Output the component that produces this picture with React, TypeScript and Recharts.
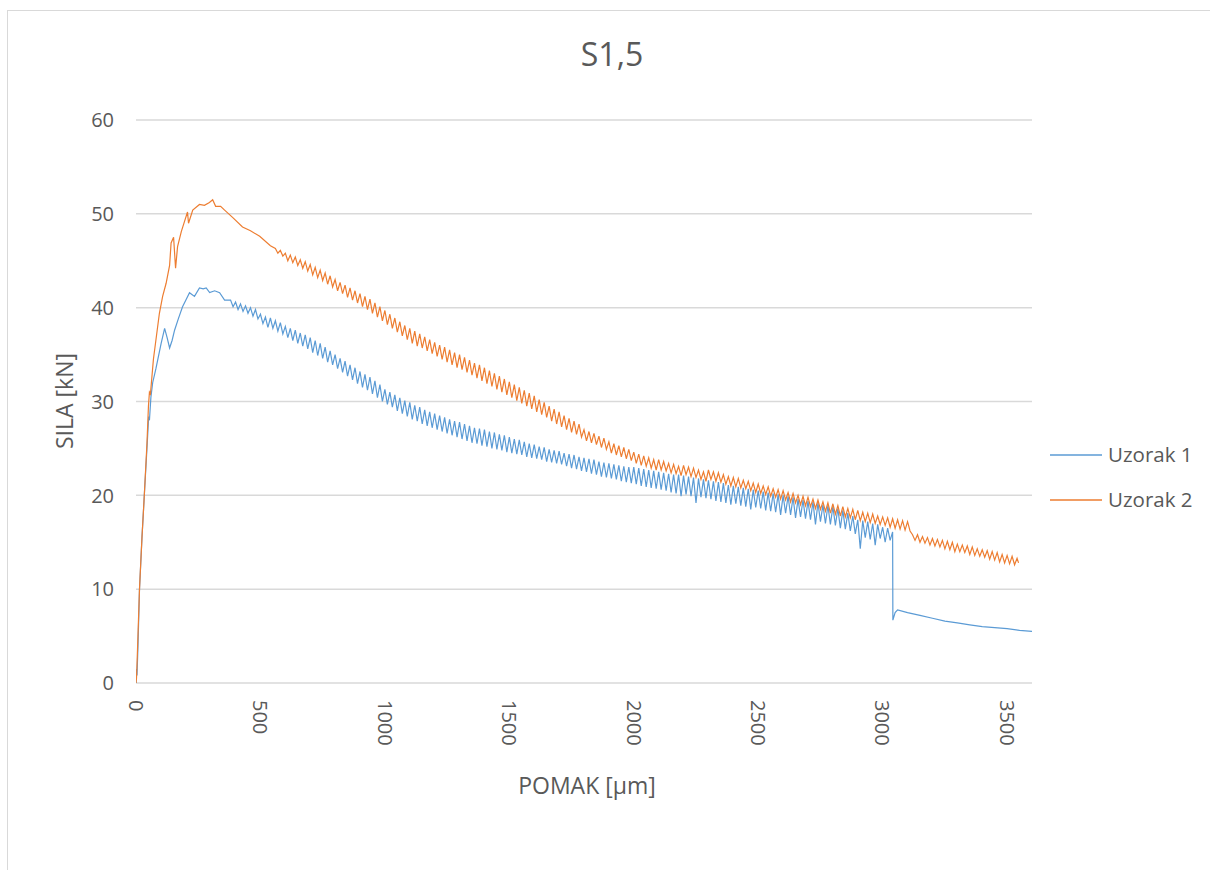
import React from 'react';
import { LineChart, Line, XAxis, YAxis, CartesianGrid } from 'recharts';

const TITLE = 'S1,5';
const X_TITLE = 'POMAK [µm]';
const Y_TITLE = 'SILA [kN]';
const SERIES_NAMES = ['Uzorak 1', 'Uzorak 2'];
const X_TICKS = [0, 500, 1000, 1500, 2000, 2500, 3000, 3500];
const Y_TICKS = [0, 10, 20, 30, 40, 50, 60];

// Uzorak 1
const blueX = [
  0, 2, 4, 8, 14, 24, 34, 44, 51, 54, 60, 67, 80, 101, 115, 125, 135, 145, 155, 170,
  187, 200, 215, 235, 255, 270, 282, 296, 316, 336, 356,
  380, 390,
  400, 410, 420, 430, 440, 450, 460, 470, 480, 490,
  500, 510, 520, 530, 540, 550, 560, 570, 580, 590,
  600, 610, 620, 630, 640, 650, 660, 670, 680, 690,
  700, 710, 720, 730, 740, 750, 760, 770, 780, 790,
  800, 810, 820, 830, 840, 850, 860, 870, 880, 890,
  900, 910, 920, 930, 940, 950, 960, 970, 980, 990,
  1000, 1010, 1020, 1030, 1040, 1050, 1060, 1070, 1080, 1090,
  1100, 1110, 1120, 1130, 1140, 1150, 1160, 1170, 1180, 1190,
  1200, 1210, 1220, 1230, 1240, 1250, 1260, 1270, 1280, 1290,
  1300, 1310, 1320, 1330, 1340, 1350, 1360, 1370, 1380, 1390,
  1400, 1410, 1420, 1430, 1440, 1450, 1460, 1470, 1480, 1490,
  1500, 1510, 1520, 1530, 1540, 1550, 1560, 1570, 1580, 1590,
  1600, 1610, 1620, 1630, 1640, 1650, 1660, 1670, 1680, 1690,
  1700, 1710, 1720, 1730, 1740, 1750, 1760, 1770, 1780, 1790,
  1800, 1810, 1820, 1830, 1840, 1850, 1860, 1870, 1880, 1890,
  1900, 1910, 1920, 1930, 1940, 1950, 1960, 1970, 1980, 1990,
  2000, 2010, 2020, 2030, 2040, 2050, 2060, 2070, 2080, 2090,
  2100, 2110, 2120, 2130, 2140, 2150, 2160, 2170, 2180, 2190,
  2200, 2210, 2220, 2230, 2240, 2250, 2260, 2270, 2280, 2290,
  2300, 2310, 2320, 2330, 2340, 2350, 2360, 2370, 2380, 2390,
  2400, 2410, 2420, 2430, 2440, 2450, 2460, 2470, 2480, 2490,
  2500, 2510, 2520, 2530, 2540, 2550, 2560, 2570, 2580, 2590,
  2600, 2610, 2620, 2630, 2640, 2650, 2660, 2670, 2680, 2690,
  2700, 2710, 2720, 2730, 2740, 2750, 2760, 2770, 2780, 2790,
  2800, 2810, 2820, 2830, 2840, 2850, 2860, 2870, 2880, 2890,
  2900, 2910, 2920, 2930, 2940, 2950, 2960, 2970, 2980, 2990,
  3000, 3010, 3020, 3030, 3040,
  3041, 3050, 3060, 3100, 3150, 3200, 3250, 3300, 3350, 3400, 3450, 3500, 3550, 3600,
];
const blueY = [
  0, 1.5, 0.8, 4, 9.9, 15.5, 20.3, 25, 28.4, 28, 30.5, 32, 33.5, 36.2, 37.8, 36.8, 35.7, 36.5, 37.6, 38.8,
  40.1, 40.8, 41.6, 41.2, 42.1, 42.0, 42.1, 41.6, 41.8, 41.6, 40.8,
  40.8, 40.1,
  40.6, 39.8, 40.4, 39.6, 40.2, 39.4, 40.0, 39.1, 39.8, 38.8,
  39.3, 38.3, 39.0, 37.9, 38.9, 37.8, 38.6, 37.5, 38.4, 37.2,
  38.0, 36.8, 37.8, 36.5, 37.6, 36.2, 37.3, 35.9, 37.1, 35.6,
  36.8, 35.2, 36.5, 34.9, 36.2, 34.6, 35.8, 34.2, 35.4, 33.9,
  35.0, 33.5, 34.6, 33.1, 34.3, 32.7, 33.9, 32.3, 33.6, 31.9,
  33.2, 31.5, 32.9, 31.2, 32.6, 30.8, 32.2, 30.4, 31.8, 30.0,
  31.3, 29.7, 31.0, 29.4, 30.7, 29.0, 30.4, 28.7, 30.1, 28.4,
  29.9, 28.1, 29.6, 27.9, 29.4, 27.6, 29.1, 27.4, 28.9, 27.2,
  28.7, 27.0, 28.5, 26.8, 28.3, 26.6, 28.1, 26.4, 27.9, 26.2,
  27.8, 26.0, 27.6, 25.8, 27.4, 25.6, 27.2, 25.5, 27.1, 25.3,
  27.0, 25.2, 26.8, 25.0, 26.7, 24.9, 26.5, 24.8, 26.4, 24.6,
  26.2, 24.5, 26.0, 24.4, 25.9, 24.3, 25.7, 24.1, 25.5, 24.0,
  25.4, 23.9, 25.2, 23.8, 25.1, 23.6, 24.9, 23.5, 24.8, 23.4,
  24.7, 23.3, 24.5, 23.1, 24.4, 22.9, 24.3, 22.8, 24.1, 22.6,
  24.0, 22.5, 23.9, 22.3, 23.8, 22.2, 23.6, 22.0, 23.5, 21.9,
  23.4, 21.8, 23.3, 21.7, 23.2, 21.5, 23.1, 21.4, 23.0, 21.3,
  23.0, 21.2, 22.9, 21.0, 22.8, 20.9, 22.7, 20.8, 22.6, 20.7,
  22.5, 20.6, 22.4, 20.5, 22.3, 20.3, 22.2, 20.2, 22.2, 19.9,
  22.1, 20.1, 22.0, 19.9, 21.9, 19.2, 21.8, 19.8, 21.7, 19.7,
  21.6, 19.6, 21.5, 19.4, 21.4, 19.3, 21.3, 19.2, 21.1, 19.0,
  21.0, 19.1, 20.9, 18.9, 20.8, 18.8, 20.7, 18.5, 20.6, 18.7,
  20.5, 18.6, 20.4, 18.4, 20.3, 18.3, 20.2, 18.2, 20.1, 17.9,
  20.0, 18.1, 19.9, 17.9, 19.8, 17.6, 19.6, 17.7, 19.5, 17.5,
  19.4, 17.4, 19.3, 16.9, 19.2, 17.2, 19.0, 17.0, 18.9, 16.9,
  18.8, 16.8, 18.6, 16.5, 18.4, 16.4, 18.1, 16.2, 17.8, 15.9,
  17.4, 14.3, 17.3, 15.5, 17.2, 15.3, 17.0, 14.7, 16.9, 15.4,
  16.6, 15.0, 16.5, 15.2, 16.1,
  6.7, 7.5, 7.8, 7.5, 7.2, 6.9, 6.6, 6.4, 6.2, 6.0, 5.9, 5.8, 5.6, 5.5,
];

// Uzorak 2
const orangeX = [
  0, 2, 6, 14, 24, 34, 44, 50, 54, 58, 70, 94, 107, 121, 135, 141, 151, 159, 167, 182,
  195, 207, 211, 228, 255, 275, 295, 308, 320, 340, 356, 389, 428, 460, 497, 540,
  560, 570, 580, 590,
  600, 610, 620, 630, 640, 650, 660, 670, 680, 690,
  700, 710, 720, 730, 740, 750, 760, 770, 780, 790,
  800, 810, 820, 830, 840, 850, 860, 870, 880, 890,
  900, 910, 920, 930, 940, 950, 960, 970, 980, 990,
  1000, 1010, 1020, 1030, 1040, 1050, 1060, 1070, 1080, 1090,
  1100, 1110, 1120, 1130, 1140, 1150, 1160, 1170, 1180, 1190,
  1200, 1210, 1220, 1230, 1240, 1250, 1260, 1270, 1280, 1290,
  1300, 1310, 1320, 1330, 1340, 1350, 1360, 1370, 1380, 1390,
  1400, 1410, 1420, 1430, 1440, 1450, 1460, 1470, 1480, 1490,
  1500, 1510, 1520, 1530, 1540, 1550, 1560, 1570, 1580, 1590,
  1600, 1610, 1620, 1630, 1640, 1650, 1660, 1670, 1680, 1690,
  1700, 1710, 1720, 1730, 1740, 1750, 1760, 1770, 1780, 1790,
  1800, 1810, 1820, 1830, 1840, 1850, 1860, 1870, 1880, 1890,
  1900, 1910, 1920, 1930, 1940, 1950, 1960, 1970, 1980, 1990,
  2000, 2010, 2020, 2030, 2040, 2050, 2060, 2070, 2080, 2090,
  2100, 2110, 2120, 2130, 2140, 2150, 2160, 2170, 2180, 2190,
  2200, 2210, 2220, 2230, 2240, 2250, 2260, 2270, 2280, 2290,
  2300, 2310, 2320, 2330, 2340, 2350, 2360, 2370, 2380, 2390,
  2400, 2410, 2420, 2430, 2440, 2450, 2460, 2470, 2480, 2490,
  2500, 2510, 2520, 2530, 2540, 2550, 2560, 2570, 2580, 2590,
  2600, 2610, 2620, 2630, 2640, 2650, 2660, 2670, 2680, 2690,
  2700, 2710, 2720, 2730, 2740, 2750, 2760, 2770, 2780, 2790,
  2800, 2810, 2820, 2830, 2840, 2850, 2860, 2870, 2880, 2890,
  2900, 2910, 2920, 2930, 2940, 2950, 2960, 2970, 2980, 2990,
  3000, 3010, 3020, 3030, 3040, 3050, 3060, 3070, 3080, 3090,
  3100, 3110, 3120, 3130, 3140, 3150, 3160, 3170, 3180, 3190,
  3200, 3210, 3220, 3230, 3240, 3250, 3260, 3270, 3280, 3290,
  3300, 3310, 3320, 3330, 3340, 3350, 3360, 3370, 3380, 3390,
  3400, 3410, 3420, 3430, 3440, 3450, 3460, 3470, 3480, 3490,
  3500, 3510, 3520, 3530, 3540, 3546,
];
const orangeY = [
  0, 0.5, 3.5, 10, 15.5, 20.3, 25.5, 29.5, 31, 30.8, 34.5, 39.4, 41.2, 42.6, 44.5, 46.9, 47.5, 44.2, 46.5, 48.1,
  49.2, 50.2, 49.0, 50.4, 51.0, 50.9, 51.2, 51.5, 50.8, 50.8, 50.4, 49.6, 48.6, 48.2, 47.6, 46.6,
  46.3, 45.8, 46.1, 45.5,
  45.8, 45.0, 45.6, 44.8, 45.4, 44.5, 45.1, 44.2, 44.9, 43.9,
  44.6, 43.5, 44.3, 43.2, 44.0, 42.9, 43.7, 42.5, 43.4, 42.2,
  43.0, 41.8, 42.7, 41.5, 42.4, 41.1, 42.1, 40.8, 41.8, 40.5,
  41.5, 40.1, 41.2, 39.8, 40.9, 39.4, 40.5, 39.0, 40.1, 38.6,
  39.7, 38.2, 39.3, 37.8, 38.9, 37.4, 38.5, 37.0, 38.1, 36.6,
  37.8, 36.2, 37.5, 35.9, 37.2, 35.7, 36.9, 35.4, 36.6, 35.1,
  36.3, 34.8, 36.0, 34.5, 35.8, 34.2, 35.5, 33.9, 35.2, 33.6,
  35.0, 33.4, 34.7, 33.1, 34.4, 32.8, 34.1, 32.5, 33.9, 32.2,
  33.6, 31.9, 33.3, 31.6, 33.0, 31.3, 32.7, 31.0, 32.4, 30.7,
  32.1, 30.4, 31.8, 30.1, 31.5, 29.8, 31.2, 29.5, 30.9, 29.2,
  30.6, 28.9, 30.2, 28.6, 29.9, 28.3, 29.5, 27.9, 29.2, 27.6,
  28.9, 27.3, 28.5, 27.0, 28.2, 26.7, 27.9, 26.5, 27.6, 26.2,
  27.0, 25.8, 26.8, 25.6, 26.6, 25.4, 26.3, 25.1, 26.1, 24.9,
  25.7, 24.5, 25.5, 24.3, 25.3, 24.1, 25.1, 23.9, 24.9, 23.7,
  24.6, 23.4, 24.4, 23.2, 24.2, 23.1, 24.0, 22.9, 23.8, 22.7,
  23.8, 22.7, 23.6, 22.6, 23.4, 22.4, 23.3, 22.3, 23.1, 22.1,
  23.2, 22.2, 23.0, 22.0, 22.9, 21.9, 22.7, 21.7, 22.5, 21.5,
  22.7, 21.7, 22.5, 21.5, 22.4, 21.4, 22.2, 21.2, 22.0, 21.0,
  21.9, 20.9, 21.8, 20.8, 21.6, 20.7, 21.5, 20.5, 21.3, 20.3,
  21.2, 20.2, 21.0, 20.1, 20.9, 19.9, 20.7, 19.8, 20.6, 19.6,
  20.5, 19.5, 20.3, 19.3, 20.2, 19.2, 20.0, 19.0, 19.9, 18.9,
  19.8, 18.8, 19.6, 18.6, 19.5, 18.5, 19.3, 18.3, 19.2, 18.1,
  19.1, 18.0, 18.9, 17.8, 18.8, 17.7, 18.6, 17.6, 18.5, 17.4,
  18.4, 17.3, 18.2, 17.2, 18.1, 17.1, 18.0, 17.0, 17.8, 16.9,
  17.7, 16.8, 17.6, 16.6, 17.5, 16.5, 17.4, 16.4, 17.3, 16.3,
  17.2, 16.2, 15.8, 15.2, 15.8, 15.0, 15.6, 14.9, 15.5, 14.7,
  15.4, 14.6, 15.3, 14.5, 15.2, 14.3, 15.1, 14.2, 15.0, 14.0,
  14.8, 14.0, 14.7, 13.9, 14.6, 13.7, 14.5, 13.6, 14.3, 13.5,
  14.2, 13.4, 14.1, 13.2, 14.0, 13.1, 13.9, 12.9, 13.7, 12.8,
  13.6, 12.7, 13.5, 12.6, 13.3, 12.8,
];

const blueData = blueX.map((x, i) => ({ x, y: blueY[i] }));
const orangeData = orangeX.map((x, i) => ({ x, y: orangeY[i] }));

const BLUE = '#5B9BD5';
const ORANGE = '#ED7D31';
const TEXT = '#595959';
const FONT = '"Open Sans", "Noto Sans", sans-serif';

const XTick = (props: any) => {
  const { x, y, payload } = props;
  return (
    <text
      transform={`translate(${x},${y + 17}) rotate(90)`}
      x={0}
      y={0}
      dy="0.36em"
      textAnchor="start"
      fill={TEXT}
      fontSize={20}
      fontFamily={FONT}
    >
      {payload.value}
    </text>
  );
};

const YTick = (props: any) => {
  const { y, payload } = props;
  return (
    <text x={114} y={y} dy="0.36em" textAnchor="end" fill={TEXT} fontSize={20} fontFamily={FONT}>
      {payload.value}
    </text>
  );
};

export default function App() {
  return (
    <div style={{ position: 'fixed', left: 0, top: 0, width: 1210, height: 870, overflow: 'hidden', background: '#fff' }}>
      <div
        style={{
          position: 'absolute',
          left: 7,
          top: 10,
          width: 1400,
          height: 1000,
          border: '1px solid #d9d9d9',
          boxSizing: 'border-box',
        }}
      />
      <div style={{ position: 'absolute', left: 0, top: 0 }}>
        <LineChart width={1210} height={870} margin={{ top: 120, right: 178, bottom: 127, left: 76 }}>
          <CartesianGrid vertical={false} stroke="#d9d9d9" strokeWidth={1.5} />
          <XAxis
            type="number"
            dataKey="x"
            domain={[0, 3600]}
            ticks={X_TICKS}
            allowDataOverflow
            axisLine={false}
            tickLine={false}
            tickSize={0}
            tickMargin={0}
            height={60}
            interval={0}
            tick={<XTick />}
          />
          <YAxis
            type="number"
            domain={[0, 60]}
            ticks={Y_TICKS}
            axisLine={false}
            tickLine={false}
            tickSize={0}
            width={60}
            interval={0}
            tick={<YTick />}
          />
          <Line
            data={blueData}
            dataKey="y"
            name={SERIES_NAMES[0]}
            type="linear"
            stroke={BLUE}
            strokeWidth={1.2}
            dot={false}
            activeDot={false}
            isAnimationActive={false}
          />
          <Line
            data={orangeData}
            dataKey="y"
            name={SERIES_NAMES[1]}
            type="linear"
            stroke={ORANGE}
            strokeWidth={1.2}
            dot={false}
            activeDot={false}
            isAnimationActive={false}
          />
        </LineChart>
      </div>
      <svg width={1210} height={870} style={{ position: 'absolute', left: 0, top: 0, pointerEvents: 'none' }}>
        <text x={612} y={66} textAnchor="middle" fontSize={32} fill={TEXT} fontFamily={FONT}>
          {TITLE}
        </text>
        <text
          transform="translate(73,401) rotate(-90)"
          textAnchor="middle"
          fontSize={23}
          fill={TEXT}
          fontFamily={FONT}
        >
          {Y_TITLE}
        </text>
        <text x={587} y={794} textAnchor="middle" fontSize={23} fill={TEXT} fontFamily={FONT}>
          {X_TITLE}
        </text>
        {SERIES_NAMES.map((name, i) => (
          <g key={name}>
            <line x1={1050} x2={1102} y1={455 + i * 45} y2={455 + i * 45} stroke={i === 0 ? BLUE : ORANGE} strokeWidth={1.5} />
            <text x={1108} y={455 + i * 45} dy="0.36em" fontSize={20.5} fill={TEXT} fontFamily={FONT}>
              {name}
            </text>
          </g>
        ))}
      </svg>
    </div>
  );
}
